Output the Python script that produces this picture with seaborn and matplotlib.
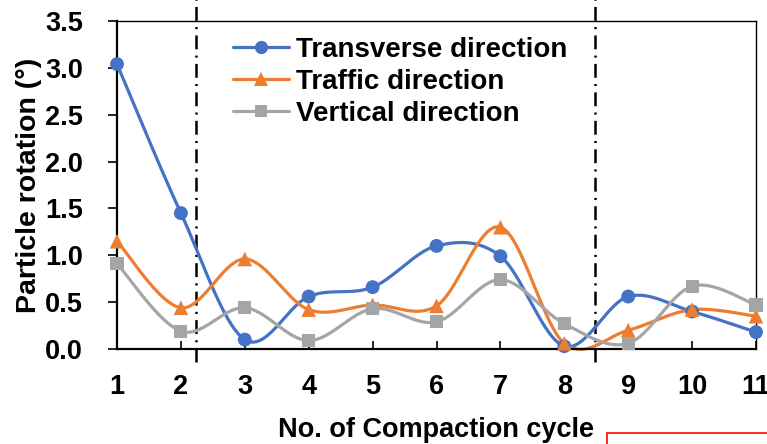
import numpy as np
import pandas as pd
import seaborn as sns
import matplotlib
matplotlib.use("Agg")
import matplotlib.pyplot as plt
from matplotlib.lines import Line2D
from matplotlib.patches import Rectangle

# ---- data ----
cycles = [1, 2, 3, 4, 5, 6, 7, 8, 9, 10, 11]
transverse = [3.04, 1.45, 0.10, 0.56, 0.66, 1.10, 0.99, 0.03, 0.56, 0.40, 0.18]
traffic = [1.15, 0.44, 0.96, 0.42, 0.47, 0.46, 1.30, 0.06, 0.20, 0.42, 0.35]
vertical = [0.91, 0.19, 0.44, 0.09, 0.43, 0.29, 0.74, 0.27, 0.06, 0.67, 0.47]
series_names = ["Transverse direction", "Traffic direction", "Vertical direction"]
divider_positions = [2.23, 8.48]
xlabel = "No. of Compaction cycle"
ylabel = "Particle rotation (°)"

colors = ["#4472C4", "#ED7D31", "#A5A5A5"]
markers = ["o", "^", "s"]
msizes = [10, 10.5, 9.5]

sns.set_theme(style="white")
plt.rcParams["font.family"] = ["Liberation Sans", "DejaVu Sans"]
plt.rcParams["font.weight"] = "bold"
plt.rcParams["text.color"] = "black"
plt.rcParams["lines.scale_dashes"] = False
FS = 19.5

W, H = 767, 444
fig = plt.figure(figsize=(W / 100, H / 100), dpi=100)
ax = fig.add_axes([117 / W, 1 - 349 / H, (756 - 117) / W, (349 - 21) / H])


def smooth(xv, yv, n=40):
    x = np.asarray(xv, float)
    y = np.asarray(yv, float)
    P = np.column_stack([x, y])
    ext = np.vstack([P[0], P, P[-1]])
    out = []
    t = np.linspace(0, 1, n)[:, None]
    for i in range(len(P) - 1):
        p0, p1, p2, p3 = ext[i], ext[i + 1], ext[i + 2], ext[i + 3]
        c1 = p1 + (p2 - p0) / 6.0
        c2 = p2 - (p3 - p1) / 6.0
        seg = ((1 - t) ** 3) * p1 + 3 * ((1 - t) ** 2) * t * c1 + 3 * (1 - t) * t ** 2 * c2 + t ** 3 * p2
        out.append(seg if i == 0 else seg[1:])
    S = np.vstack(out)
    return S[:, 0], S[:, 1]


handles = []
for vals, name, c, m, ms in zip([transverse, traffic, vertical], series_names, colors, markers, msizes):
    sx, sy = smooth(cycles, vals)
    sns.lineplot(x=sx, y=sy, sort=False, estimator=None, color=c, lw=2.3, ax=ax, clip_on=False)
    df = pd.DataFrame({"x": cycles, "y": vals})
    sns.scatterplot(data=df, x="x", y="y", marker=m, s=ms ** 2, color=c, edgecolor="none",
                    ax=ax, clip_on=False, zorder=3)
    handles.append(Line2D([], [], color=c, lw=2.3, marker=m, markersize=ms * 0.95, markeredgewidth=0))

ax.set_xlim(1, 11)
ax.set_ylim(0, 3.5)
ax.set_xticks(cycles)
ax.set_yticks(np.arange(0, 3.51, 0.5))
ax.set_yticklabels([f"{v:.1f}" for v in np.arange(0, 3.51, 0.5)])

for s in ["left", "bottom"]:
    ax.spines[s].set_linewidth(1.6)
    ax.spines[s].set_color("black")
for s in ["top", "right"]:
    ax.spines[s].set_linewidth(1.0)
    ax.spines[s].set_color("black")

ax.tick_params(axis="y", direction="out", length=6.5, width=1.2, pad=18, labelsize=FS, left=True,
               colors="black", labelcolor="black")
ax.tick_params(axis="x", direction="in", length=6, width=1.2, pad=18, labelsize=FS, bottom=True,
               colors="black", labelcolor="black")
for lab in ax.get_xticklabels() + ax.get_yticklabels():
    lab.set_fontweight("bold")

ax.set_xlabel(xlabel, fontsize=FS, fontweight="bold", labelpad=12, color="black")
ax.set_ylabel(ylabel, fontsize=20.5, fontweight="bold", labelpad=2, color="black")

# dash-dot dividers
for xv in divider_positions:
    ln = ax.plot([xv, xv], [-0.14, 3.73], color="black", lw=1.8, clip_on=False, zorder=1)[0]
    ln.set_dashes((10, 4.5, 1.5, 4.5))

leg = fig.legend(handles=handles, labels=series_names, loc="upper left",
                 bbox_to_anchor=(233 / W, 1 - 37 / H), frameon=False,
                 prop={"size": 20, "weight": "bold"}, handlelength=2.0, handletextpad=0.25,
                 labelspacing=0.22, borderpad=0, borderaxespad=0, labelcolor="black")

# red frame fragment at bottom right
fig.add_artist(Rectangle((607 / W, -0.1), 0.5, (1 - 433 / H) + 0.1, transform=fig.transFigure,
                         fill=False, edgecolor="red", lw=1.2))

fig.savefig("out.png", dpi=100)
